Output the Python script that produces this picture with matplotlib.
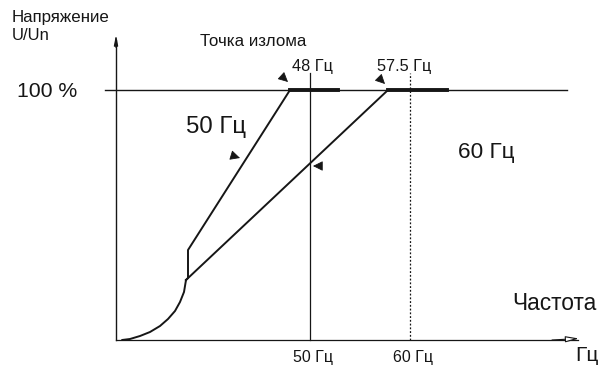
import matplotlib
matplotlib.use("Agg")
import matplotlib.pyplot as plt

plt.rcParams['font.family'] = ['Liberation Sans', 'DejaVu Sans']

# ---- data (frequency in Hz on a schematic scale, voltage in % of Un) ----
curve_f = [31.2, 32.0, 33.0, 34.0, 35.0, 35.8, 36.5, 37.0, 37.4, 37.6]   # low-frequency boost curve
curve_v = [0.0, 0.4, 1.6, 3.2, 5.6, 8.4, 11.6, 15.2, 19.2, 24.0]
ramp50_f = [37.6, 37.8, 37.8, 48.0]                   # 50 Hz characteristic
ramp50_v = [24.0, 24.8, 36.0, 100.0]
ramp60_f = [37.6, 57.8]                               # 60 Hz characteristic
ramp60_v = [24.0, 100.0]
flat50_f = [48.0, 52.8]                               # constant-voltage part
flat60_f = [57.8, 63.7]
nominal_v = 100.0
base_freqs = [50, 60]
break_freqs = [48, 57.5]
break_labels = ["48 Гц", "57.5 Гц"]
base_labels = ["50 Гц", "60 Гц"]

INK = "#161616"

fig = plt.figure(figsize=(6.13, 3.67), dpi=100)
ax = fig.add_axes([0, 0, 1, 1])
ax.set_xlim(19.0, 80.3)
ax.set_ylim(-10.8, 136.0)
ax.axis('off')

# axes
x0 = 30.6
ax.plot([x0, x0], [0, 120], color=INK, lw=1.0)
ax.plot([x0, 76.8], [0, 0], color=INK, lw=0.9)
ax.annotate("", xy=(76.9, 0.6), xytext=(74.2, 0.0),
            arrowprops=dict(arrowstyle='-|>,head_length=0.8,head_width=0.18',
                            fc='white', ec=INK, lw=0.8, shrinkA=0, shrinkB=0,
                            mutation_scale=10))
ax.annotate("", xy=(x0, 122), xytext=(x0, 117),
            arrowprops=dict(arrowstyle='-|>,head_length=0.6,head_width=0.12',
                            fc=INK, ec=INK, lw=0.8, shrinkA=0, shrinkB=0,
                            mutation_scale=10))

# 100 % line
ax.plot([29.5, 75.7], [nominal_v, nominal_v], color=INK, lw=1.0)

# vertical reference lines
ax.plot([base_freqs[0], base_freqs[0]], [0, 107], color=INK, lw=0.9)
ax.plot([base_freqs[1], base_freqs[1]], [0, 107], color=INK, lw=0.9, ls=(0, (1.5, 1.5)))

# characteristics
ax.plot(curve_f, curve_v, color=INK, lw=1.4, solid_capstyle='round', solid_joinstyle='round')
ax.plot(ramp50_f, ramp50_v, color=INK, lw=1.4, solid_joinstyle='round')
ax.plot(ramp60_f, ramp60_v, color=INK, lw=1.4)
ax.plot(flat50_f, [nominal_v, nominal_v], color=INK, lw=2.8)
ax.plot(flat60_f, [nominal_v, nominal_v], color=INK, lw=2.8)

# small arrowheads
arrows = [((43.0, 72.8), (42.2, 73.8)),
          ((50.3, 69.6), (51.1, 69.6)),
          ((47.8, 103.2), (47.2, 105.4)),
          ((57.5, 102.4), (56.9, 104.8))]
for tip, tail in arrows:
    ax.annotate("", xy=tip, xytext=tail,
                arrowprops=dict(arrowstyle='-|>,head_length=0.6,head_width=0.3',
                                fc=INK, ec=INK, lw=0.6, shrinkA=0, shrinkB=0,
                                mutation_scale=10))

# texts
T = dict(color=INK, va='baseline')
ax.text(20.2, 127.2, "Напряжение", fontsize=12.2, **T)
ax.text(20.2, 120.2, "U/Un", fontsize=12, **T)
ax.text(39.0, 117.6, "Точка излома", fontsize=12.2, **T)
ax.text(20.7, 97.2, "100 %", fontsize=15.3, **T)
for f, lab in zip(break_freqs, break_labels):
    ax.text(f + 0.2 if f == 48 else f - 0.8, 107.6, lab, fontsize=11.7, **T)
ax.text(37.6, 82.7, "50 Гц", fontsize=17.3, **T)
ax.text(64.8, 72.7, "60 Гц", fontsize=16.2, **T)
ax.text(70.2, 12.0, "Частота", fontsize=16.4, **T)
for f, lab in zip(base_freqs, base_labels):
    ax.text(f - 1.7, -8.8, lab, fontsize=11.5, **T)
ax.text(76.5, -8.4, "Гц", fontsize=15, **T)

fig.savefig("out.png", dpi=100, facecolor='white')
